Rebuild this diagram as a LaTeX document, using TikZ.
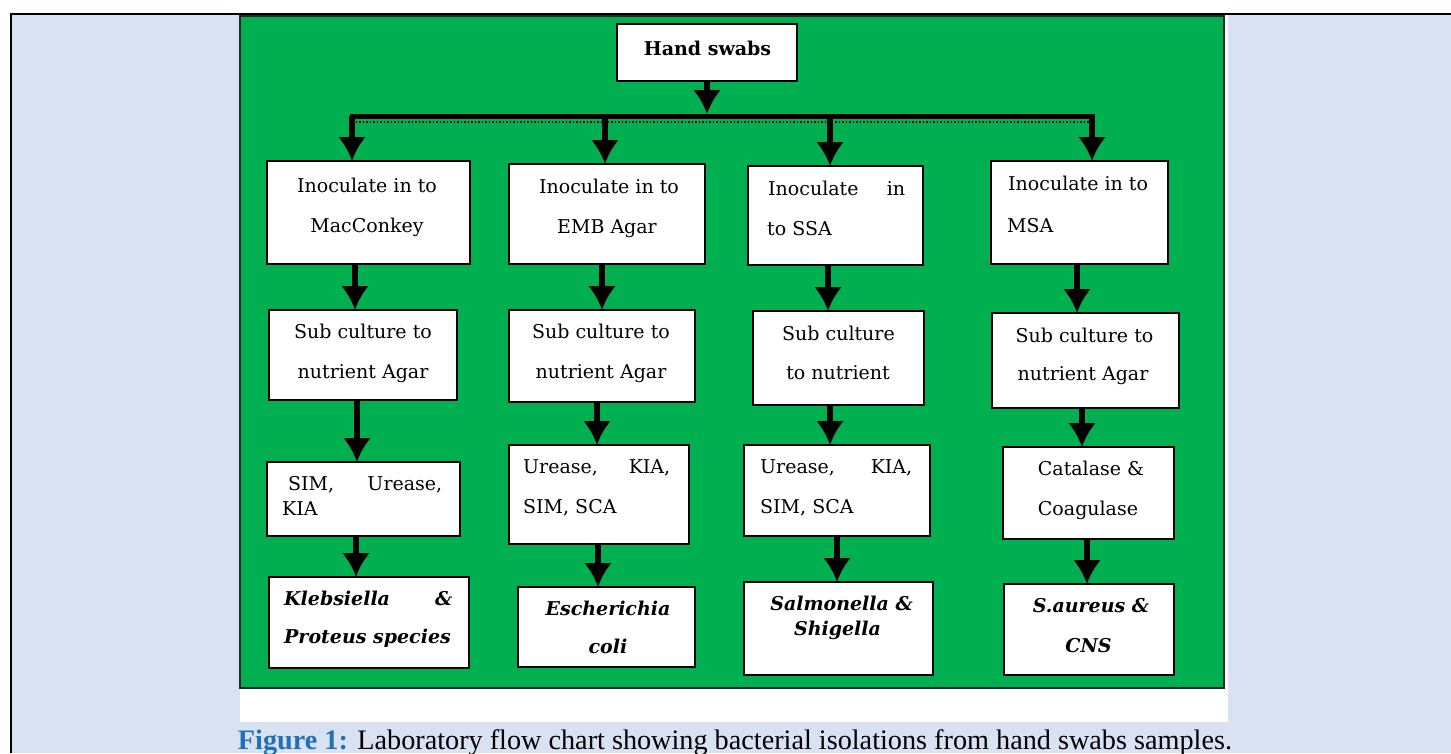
\documentclass[tikz,border=0pt]{standalone}
\usepackage{fontspec}
\setmainfont{DejaVu Serif}
\newfontfamily\capfont{Liberation Serif}
\usetikzlibrary{arrows.meta}
\definecolor{bgblue}{RGB}{217,226,243}
\definecolor{fgreen}{RGB}{0,176,80}
\definecolor{figblue}{RGB}{31,112,186}
\newcommand\mybox[5]{\node[box, minimum width=#4pt, minimum height=#5pt] (#1) at (#2,#3) {};}
\begin{document}
\begin{tikzpicture}[x=1pt,y=-1pt,
 box/.style={draw=black, fill=white, line width=2pt, inner sep=0pt, outer sep=0pt, rectangle},
 t/.style={inner sep=0pt, anchor=base, font=\fontsize{19}{22}\selectfont},
 tw/.style={t, anchor=base west},
 bi/.style={font=\fontsize{19}{22}\selectfont\bfseries\itshape},
 arr/.style={line width=6pt, -{Latex[width=28pt,length=24pt]}},
]
\useasboundingbox (0,0) rectangle (1451,753);
% backgrounds
\fill[white] (0,0) rectangle (1451,753);
\fill[bgblue] (10,14) rectangle (1451,753);
\draw[line width=2pt] (10.5,753) -- (10.5,14) -- (1451,14);
\fill[white] (240,15) rectangle (1228,722);
\filldraw[fill=fgreen, draw=black!85, line width=1.5pt] (240,16) rectangle (1224,688);

% boxes
\mybox{hand}{707}{52.5}{180}{57}
\mybox{b11}{368.5}{212.5}{203}{103}
\mybox{b12}{607}{214}{196}{100}
\mybox{b13}{835.5}{215.5}{175}{99}
\mybox{b14}{1079.5}{212.5}{177}{103}
\mybox{b21}{363}{355}{188}{90}
\mybox{b22}{602}{356}{186}{92}
\mybox{b23}{838.5}{358}{171}{94}
\mybox{b24}{1085.5}{360.5}{187}{95}
\mybox{b31}{363.5}{499}{193}{74}
\mybox{b32}{599}{494.5}{180}{99}
\mybox{b33}{837}{490.5}{186}{91}
\mybox{b34}{1088.5}{493}{171}{92}
\mybox{b41}{369}{622.5}{200}{91}
\mybox{b42}{606.5}{627}{177}{80}
\mybox{b43}{838.5}{628.5}{189}{93}
\mybox{b44}{1089}{629.5}{170}{91}

% texts
\node[t, font=\fontsize{19}{22}\selectfont\bfseries] (th) at (707.5,55) {Hand swabs};
\node[t] (t11a) at (367,192) {Inoculate in to};
\node[t] (t11b) at (367,232) {MacConkey};
\node[t] (t12a) at (609,193) {Inoculate in to};
\node[t] (t12b) at (607,233) {EMB Agar};
\node[tw] (t13a) at (768,195) {\makebox[137pt][s]{Inoculate in}};
\node[tw] (t13b) at (767,235) {to SSA};
\node[tw] (t14a) at (1008,190) {Inoculate in to};
\node[tw] (t14b) at (1007,232) {MSA};
\node[t] (t21a) at (363,338) {Sub culture to};
\node[t] (t21b) at (363,378) {nutrient Agar};
\node[t] (t22a) at (601,338) {Sub culture to};
\node[t] (t22b) at (601,378) {nutrient Agar};
\node[t] (t23a) at (838.5,340) {Sub culture};
\node[t] (t23b) at (838,379) {to nutrient};
\node[t] (t24a) at (1084.5,342) {Sub culture to};
\node[t] (t24b) at (1083,380) {nutrient Agar};
\node[tw] (t31a) at (288,490) {\makebox[154pt][s]{SIM, Urease,}};
\node[tw] (t31b) at (282,515) {KIA};
\node[tw] (t32a) at (523,473) {\makebox[147pt][s]{Urease, KIA,}};
\node[tw] (t32b) at (523,513) {SIM, SCA};
\node[tw] (t33a) at (760,473) {\makebox[152pt][s]{Urease, KIA,}};
\node[tw] (t33b) at (760,513) {SIM, SCA};
\node[t] (t34a) at (1091,475) {Catalase \&};
\node[t] (t34b) at (1088,515) {Coagulase};
\node[tw, bi] (t41a) at (284,605) {\makebox[168pt][s]{Klebsiella \&}};
\node[tw, bi] (t41b) at (284,643) {Proteus species};
\node[t, bi] (t42a) at (608,615) {Escherichia};
\node[t, bi] (t42b) at (608,653) {coli};
\node[t, bi] (t43a) at (841.5,610) {Salmonella \&};
\node[t, bi] (t43b) at (837.5,635) {Shigella};
\node[t, bi] (t44a) at (1091,612) {S.aureus \&};
\node[t, bi] (t44b) at (1088.5,652) {CNS};

% bus
\coordinate (j1) at (352,116);
\coordinate (j2) at (605,116);
\coordinate (j3) at (830,116);
\coordinate (j4) at (1092,116);
\coordinate (jh) at (707,116);
\draw[line width=5pt, line cap=rect] (j1) -- (j4);
\draw[line width=1.5pt, dotted] ([yshift=-6pt]j1) -- ([yshift=-6pt]j4);
\draw[arr] (hand.south) -- ([yshift=2pt]jh);
\draw[arr] (j1) -- (j1 |- b11.north);
\draw[arr] (j2) -- (j2 |- b12.north);
\draw[arr] (j3) -- (j3 |- b13.north);
\draw[arr] (j4) -- (j4 |- b14.north);

% column arrows
\coordinate (c1a) at (355,0); \coordinate (c1b) at (357,0); \coordinate (c1c) at (356,0);
\coordinate (c2a) at (602,0); \coordinate (c2b) at (597,0); \coordinate (c2c) at (598,0);
\coordinate (c3a) at (828,0); \coordinate (c3b) at (830,0); \coordinate (c3c) at (837,0);
\coordinate (c4a) at (1077,0); \coordinate (c4b) at (1082,0); \coordinate (c4c) at (1087,0);
\draw[arr] (b11.south -| c1a) -- (b21.north -| c1a);
\draw[arr] (b21.south -| c1b) -- (b31.north -| c1b);
\draw[arr] (b31.south -| c1c) -- (b41.north -| c1c);
\draw[arr] (b12.south -| c2a) -- (b22.north -| c2a);
\draw[arr] (b22.south -| c2b) -- (b32.north -| c2b);
\draw[arr] (b32.south -| c2c) -- (b42.north -| c2c);
\draw[arr] (b13.south -| c3a) -- (b23.north -| c3a);
\draw[arr] (b23.south -| c3b) -- (b33.north -| c3b);
\draw[arr] (b33.south -| c3c) -- (b43.north -| c3c);
\draw[arr] (b14.south -| c4a) -- (b24.north -| c4a);
\draw[arr] (b24.south -| c4b) -- (b34.north -| c4b);
\draw[arr] (b34.south -| c4c) -- (b44.north -| c4c);

% caption
\node[inner sep=0pt, anchor=base] (cap) at (735,749) {\resizebox{994pt}{!}{\capfont\fontsize{26}{30}\selectfont\textcolor{figblue}{\textbf{Figure 1:}} Laboratory flow chart showing bacterial isolations from hand swabs samples.}};
\end{tikzpicture}
\end{document}
